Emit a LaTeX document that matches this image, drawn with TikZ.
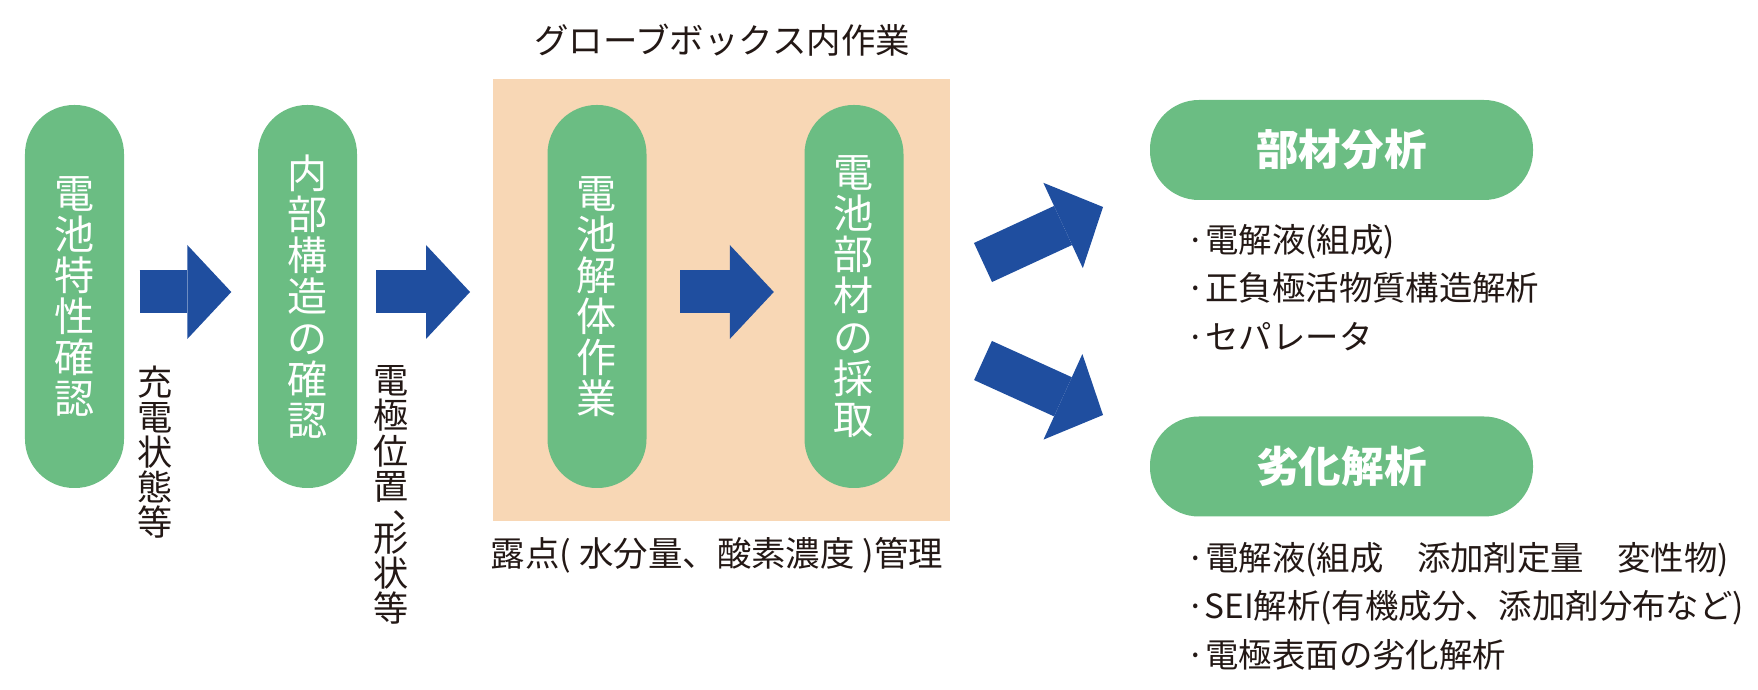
\documentclass[tikz,border=0pt]{standalone}
\usepackage{fontspec}
\setmainfont{Noto Sans CJK JP}
\usepackage{xcolor}
\usepackage{tikz}
\usetikzlibrary{arrows.meta,positioning,calc}
\definecolor{pillgreen}{HTML}{6BBD83}
\definecolor{boxorange}{HTML}{F8D7B5}
\definecolor{arrblue}{HTML}{1F4E9F}
\definecolor{inkdark}{HTML}{231815}
% comma set the way it sits in a vertical line
\newcommand{\vcomma}{\makebox[1em][l]{\hspace{0.55em}\raisebox{0.2em}{、}}}

\begin{document}
\begin{tikzpicture}[
    x=1cm,y=1cm,
    vpill/.style  = {rectangle, rounded corners=0.49cm, fill=pillgreen,
                     minimum width=0.99cm, minimum height=3.83cm, inner sep=0pt,
                     align=center, text=white, font=\fontsize{11.4}{11.7}\selectfont},
    hpill/.style  = {rectangle, rounded corners=0.49cm, fill=pillgreen,
                     minimum width=3.83cm, minimum height=1.0cm, inner sep=0pt,
                     text=white, font=\bfseries\fontsize{12.1}{13}\selectfont},
    bigarr/.style = {draw=arrblue, line width=0.43cm,
                     -{Triangle[length=0.44cm, width=0.94cm, line width=0pt]}},
    vlab/.style   = {align=center, inner sep=0pt, anchor=north, text=inkdark,
                     font=\fontsize{10}{10}\selectfont},
    captxt/.style = {inner sep=0pt, text=inkdark, font=\fontsize{9.8}{11}\selectfont},
    items/.style  = {align=left, inner sep=0pt, anchor=west, text=inkdark,
                     font=\fontsize{9.5}{13.8}\selectfont},
  ]

  \useasboundingbox (0,0) rectangle (17.58,6.90);

  % glove box area
  \fill[boxorange] (4.93,1.69) rectangle (9.50,6.11);
  \coordinate (gbw) at (4.93,3.935);
  \node[captxt] (gbtitle) at (7.22,6.50) {グローブボックス内作業};
  \node[captxt] (gbnote)  at (7.17,1.35) {露点( 水分量、酸素濃度 )管理};

  % process steps
  \node[vpill] (chk) at (0.745,3.935) {電\\池\\特\\性\\確\\認};
  \node[vpill] (inn) at (3.075,3.935) {内\\部\\構\\造\\の\\確\\認};
  \node[vpill] (dis) at (5.97,3.935)  {電\\池\\解\\体\\作\\業};
  \node[vpill] (smp) at (8.54,3.935)  {電\\池\\部\\材\\の\\採\\取};

  \node[vlab] (chklab) at (1.55,3.25) {充\\電\\状\\態\\等};
  \node[vlab] (innlab) at (3.91,3.25)
       {電\\極\\位\\置\\[-2.6pt]\vcomma\\[-2.6pt]形\\状\\等};

  % analyses
  \node[hpill] (mat) at (13.415,5.40)  {部材分析};
  \node[hpill] (deg) at (13.415,2.235) {劣化解析};

  \node[items] (matlist) at (11.86,4.025)
       {·電解液(組成)\\·正負極活物質構造解析\\·セパレータ};
  \node[items] (deglist) at (11.86,0.84)
       {·電解液(組成　添加剤定量　変性物)\\·SEI解析(有機成分、添加剤分布など)\\·電極表面の劣化解析};

  % flow arrows
  \draw[bigarr] ([xshift=0.15cm,yshift=0.045cm]chk.east) -- ([xshift=-0.26cm,yshift=0.045cm]inn.west);
  \draw[bigarr] ([xshift=0.185cm,yshift=0.045cm]inn.east) -- ([xshift=-0.23cm,yshift=0.045cm]gbw);
  \draw[bigarr] ([xshift=0.33cm,yshift=0.045cm]dis.east) -- ([xshift=-0.30cm,yshift=0.045cm]smp.west);

  \coordinate (up0) at (9.83,4.275);
  \coordinate (up1) at (11.03,4.83);
  \coordinate (dn0) at (9.83,3.295);
  \coordinate (dn1) at (11.03,2.75);
  \draw[bigarr] (up0) -- (up1);
  \draw[bigarr] (dn0) -- (dn1);

\end{tikzpicture}
\end{document}
